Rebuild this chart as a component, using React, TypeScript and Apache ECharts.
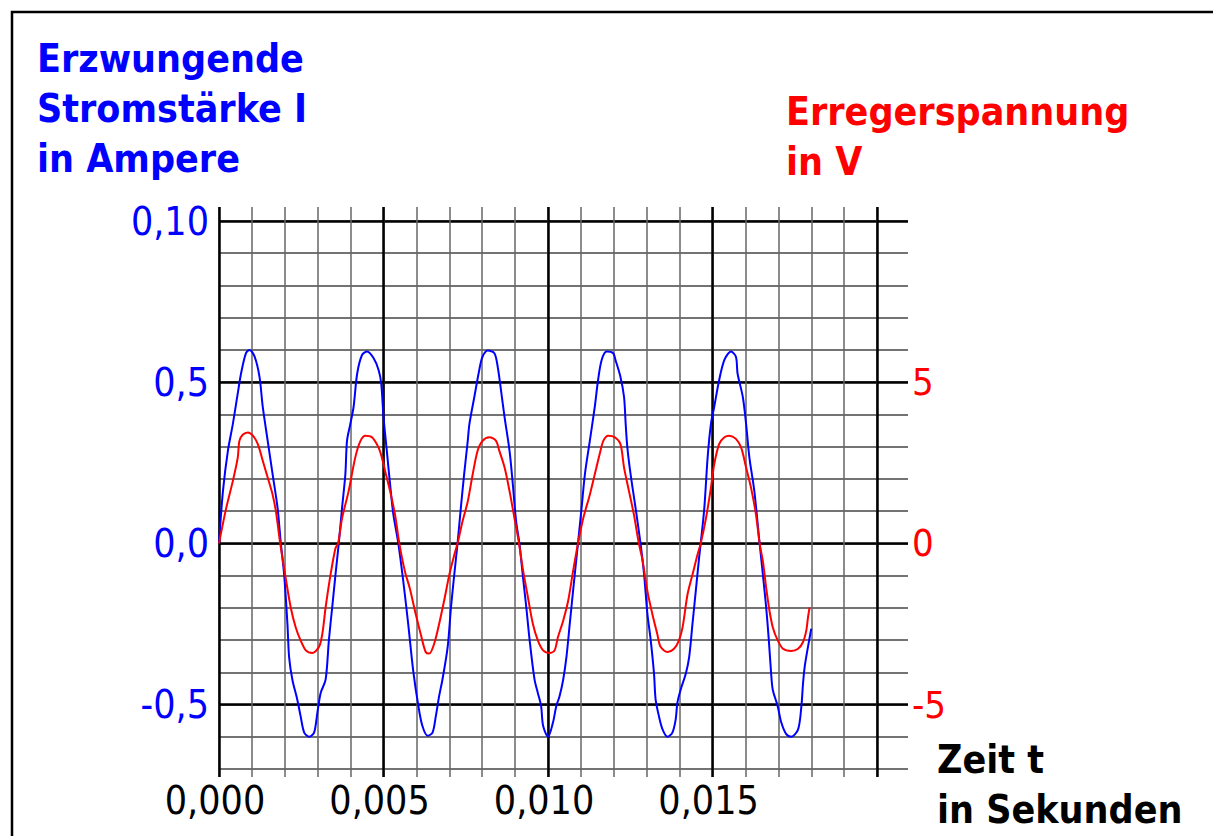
import React, { useEffect, useRef } from "react";
import * as echarts from "echarts";

// Forced current I (A), time in ms
const currentTimesMs = [
  0, 0.12, 0.27, 0.42, 0.57, 0.67, 0.82, 0.93, 1.08, 1.23, 1.33, 1.48, 1.63, 1.78, 1.88, 1.98, 2.08, 2.13, 2.23, 2.38,
  2.48, 2.59, 2.74, 2.89, 2.99, 3.09, 3.24, 3.34, 3.44, 3.54, 3.64, 3.74, 3.84, 3.89, 3.99, 4.09, 4.2, 4.35, 4.5, 4.7,
  4.85, 4.93, 5.0, 5.1, 5.2, 5.3, 5.45, 5.6, 5.75, 5.9, 6.06, 6.18, 6.34, 6.49, 6.59, 6.69, 6.79, 6.95, 7.05, 7.15,
  7.25, 7.35, 7.45, 7.56, 7.61, 7.76, 7.91, 8.01, 8.17, 8.37, 8.47, 8.57, 8.68, 8.83, 8.93, 9.03, 9.13, 9.23, 9.34, 9.44,
  9.59, 9.69, 9.79, 9.85, 10.0, 10.15, 10.25, 10.35, 10.46, 10.56, 10.66, 10.76, 10.91, 11.02, 11.12, 11.27, 11.42, 11.52, 11.63, 11.78,
  11.98, 12.05, 12.2, 12.31, 12.36, 12.41, 12.51, 12.66, 12.81, 12.92, 13.02, 13.12, 13.22, 13.27, 13.37, 13.48, 13.63, 13.78, 13.88, 13.93,
  14.03, 14.19, 14.29, 14.39, 14.49, 14.59, 14.64, 14.75, 14.85, 14.95, 15.05, 15.2, 15.36, 15.56, 15.71, 15.76, 15.92, 16.02, 16.12, 16.27,
  16.43, 16.53, 16.63, 16.71, 16.78, 16.83, 16.98, 17.09, 17.24, 17.39, 17.6, 17.7, 17.75, 17.8, 17.9, 18.0,
];
const currentValues = [
  0, 0.162, 0.287, 0.37, 0.465, 0.527, 0.59, 0.6, 0.58, 0.517, 0.423, 0.318, 0.214, 0.11, 0, -0.097, -0.25, -0.352, -0.423, -0.485,
  -0.536, -0.587, -0.6, -0.587, -0.525, -0.464, -0.423, -0.3, -0.199, -0.097, 0, 0.11, 0.214, 0.318, 0.37, 0.423, 0.527, 0.585, 0.595, 0.574,
  0.538, 0.496, 0.392, 0.287, 0.183, 0.089, 0, -0.117, -0.25, -0.393, -0.505, -0.566, -0.597, -0.587, -0.536, -0.474, -0.423, -0.321, -0.199, -0.097,
  0, 0.11, 0.214, 0.318, 0.37, 0.454, 0.538, 0.579, 0.598, 0.59, 0.548, 0.475, 0.391, 0.287, 0.183, 0.068, 0, -0.097, -0.199, -0.3,
  -0.423, -0.464, -0.505, -0.566, -0.6, -0.556, -0.505, -0.474, -0.423, -0.352, -0.25, -0.148, 0, 0.11, 0.214, 0.318, 0.423, 0.506, 0.569, 0.595,
  0.59, 0.569, 0.517, 0.454, 0.37, 0.298, 0.214, 0.11, 0, -0.097, -0.219, -0.3, -0.403, -0.485, -0.536, -0.577, -0.6, -0.587, -0.546, -0.495,
  -0.454, -0.403, -0.352, -0.25, -0.148, -0.046, 0, 0.11, 0.266, 0.37, 0.423, 0.506, 0.569, 0.595, 0.579, 0.527, 0.454, 0.37, 0.266, 0.162,
  0, -0.097, -0.199, -0.3, -0.403, -0.454, -0.505, -0.556, -0.592, -0.6, -0.577, -0.505, -0.434, -0.383, -0.321, -0.265,
];

// Exciting voltage U (V), time in ms
const voltageTimesMs = [
  0, 0.22, 0.42, 0.57, 0.62, 0.72, 0.88, 1.03, 1.18, 1.33, 1.48, 1.63, 1.73, 1.86, 2.01, 2.18, 2.33, 2.48, 2.64, 2.84,
  3.04, 3.14, 3.24, 3.39, 3.54, 3.62, 3.74, 3.94, 4.14, 4.3, 4.45, 4.65, 4.85, 4.95, 5.05, 5.2, 5.35, 5.48, 5.65, 5.8,
  5.98, 6.13, 6.28, 6.39, 6.54, 6.69, 6.84, 7.0, 7.15, 7.25, 7.4, 7.56, 7.71, 7.86, 8.01, 8.22, 8.42, 8.52, 8.68, 8.83,
  8.98, 9.11, 9.23, 9.39, 9.54, 9.69, 9.85, 10.05, 10.2, 10.3, 10.46, 10.61, 10.76, 10.91, 11.07, 11.27, 11.42, 11.57, 11.68, 11.83,
  12.03, 12.2, 12.31, 12.46, 12.61, 12.76, 12.86, 13.02, 13.17, 13.32, 13.42, 13.63, 13.83, 13.98, 14.09, 14.24, 14.39, 14.54, 14.64, 14.8,
  14.95, 15.05, 15.2, 15.36, 15.51, 15.71, 15.87, 16.02, 16.17, 16.32, 16.43, 16.53, 16.63, 16.73, 16.83, 16.98, 17.14, 17.39, 17.6, 17.75,
  17.85, 17.9, 17.95,
];
const voltageValues = [
  0, 1.1, 1.93, 2.66, 3.18, 3.37, 3.44, 3.34, 3.08, 2.56, 2.04, 1.51, 0.99, 0, -0.97, -1.99, -2.6, -3.01, -3.32, -3.4,
  -3.21, -2.81, -1.99, -0.97, -0.15, 0, 0.78, 1.62, 2.66, 3.18, 3.34, 3.29, 2.97, 2.66, 2.24, 1.62, 0.89, 0, -0.87, -1.4,
  -2.2, -2.81, -3.37, -3.42, -3.11, -2.5, -1.79, -0.97, -0.36, 0, 0.68, 1.3, 2.14, 2.87, 3.18, 3.29, 3.18, 2.87, 2.35, 1.62,
  0.78, 0.05, -0.77, -1.68, -2.5, -3.01, -3.32, -3.4, -3.32, -2.91, -2.4, -1.79, -0.87, 0, 0.78, 1.51, 2.14, 2.77, 3.18, 3.34,
  3.29, 3.08, 2.35, 1.62, 0.89, 0, -0.46, -1.48, -2.19, -2.81, -3.21, -3.37, -3.27, -3.01, -2.6, -1.58, -0.97, -0.36, 0, 0.78,
  1.72, 2.45, 3.08, 3.29, 3.34, 3.24, 2.97, 2.35, 1.72, 0.89, 0, -0.56, -1.38, -2.09, -2.6, -3.01, -3.27, -3.34, -3.27, -3.06,
  -2.7, -2.3, -1.99,
];

// Axis ticks and labels
const xTickValues = [0, 0.005, 0.01, 0.015];
const xTickLabels = ["0,000", "0,005", "0,010", "0,015"];
const leftTickValues = [-0.5, 0, 0.5, 1.0];
const leftTickLabels = ["-0,5", "0,0", "0,5", "0,10"];
const rightTickValues = [-5, 0, 5];
const rightTickLabels = ["-5", "0", "5"];

const leftTitle = ["Erzwungende", "Stromstärke I", "in Ampere"];
const rightTitle = ["Erregerspannung", "in V"];
const xTitle = ["Zeit t", "in Sekunden"];

const FONT = "'DejaVu Sans Condensed', 'DejaVu Sans', sans-serif";

const pick = (vals: number[], labels: string[]) => (v: number) => {
  const i = vals.findIndex((t) => Math.abs(t - v) < 1e-9);
  return i >= 0 ? labels[i] : "";
};

export default function App() {
  const ref = useRef<HTMLDivElement>(null);
  useEffect(() => {
    if (!ref.current) return;
    const chart = echarts.init(ref.current, null, { renderer: "svg" });
    const currentData = currentTimesMs.map((t, i) => [t / 1000, currentValues[i]]);
    const voltageData = voltageTimesMs.map((t, i) => [t / 1000, voltageValues[i]]);
    const X_MAX = 0.02094;
    const gridLeft = 219;
    const gridWidth = 689;

    const textLines = (lines: string[], x: number, y0: number, step: number, color: string) =>
      lines.map((s, i) => ({
        type: "text",
        x,
        y: y0 + i * step,
        style: {
          text: s,
          fill: color,
          font: `bold 39px ${FONT}`,
          align: "left",
          verticalAlign: "middle",
        },
      }));

    chart.setOption({
      animation: false,
      backgroundColor: "#ffffff",
      grid: [
        { left: gridLeft, top: 221, width: gridWidth, height: 548 },
        { left: gridLeft, top: 207, width: gridWidth, height: 570 },
      ],
      xAxis: [
        {
          gridIndex: 0,
          type: "value",
          min: 0,
          max: X_MAX,
          minInterval: 0.005,
          maxInterval: 0.005,
          axisLine: { show: false },
          axisTick: { show: false },
          splitLine: { show: false },
          axisLabel: {
            color: "#000",
            fontSize: 39,
            fontFamily: FONT,
            margin: 12,
            padding: [0, 8, 0, 0],
            formatter: pick(xTickValues, xTickLabels),
          },
        },
        {
          gridIndex: 1,
          type: "value",
          min: 0,
          max: X_MAX,
          minInterval: 0.001,
          maxInterval: 0.001,
          axisLine: { show: false },
          axisTick: { show: false },
          axisLabel: { show: false },
          splitLine: { show: true, showMaxLine: false, lineStyle: { color: "#666", width: 1.5 } },
        },
        {
          gridIndex: 1,
          type: "value",
          min: 0,
          max: X_MAX,
          minInterval: 0.005,
          maxInterval: 0.005,
          axisLine: { show: false },
          axisTick: { show: false },
          axisLabel: { show: false },
          splitLine: { show: true, showMaxLine: false, lineStyle: { color: "#000", width: 2.5 } },
        },
      ],
      yAxis: [
        {
          gridIndex: 0,
          type: "value",
          position: "left",
          min: -0.7,
          max: 1.0,
          minInterval: 0.1,
          maxInterval: 0.1,
          axisLine: { show: false },
          axisTick: { show: false },
          axisLabel: { show: false },
          splitLine: { show: true, lineStyle: { color: "#444", width: 1.5 } },
        },
        {
          gridIndex: 0,
          type: "value",
          position: "left",
          min: -0.7,
          max: 1.0,
          minInterval: 0.5,
          maxInterval: 0.5,
          axisLine: { show: false },
          axisTick: { show: false },
          axisLabel: {
            color: "#0000ff",
            fontSize: 39,
            fontFamily: FONT,
            margin: 10,
            formatter: pick(leftTickValues, leftTickLabels),
          },
          splitLine: { show: true, showMinLine: false, lineStyle: { color: "#000", width: 2.5 } },
        },
        {
          gridIndex: 0,
          type: "value",
          position: "right",
          min: -7,
          max: 10,
          minInterval: 5,
          maxInterval: 5,
          axisLine: { show: false },
          axisTick: { show: false },
          splitLine: { show: false },
          axisLabel: {
            color: "#ff0000",
            fontSize: 38,
            fontFamily: FONT,
            margin: 4,
            formatter: pick(rightTickValues, rightTickLabels),
          },
        },
        { gridIndex: 1, type: "value", show: false, min: 0, max: 1, splitLine: { show: false } },
      ],
      series: [
        {
          name: "Stromstärke I",
          type: "line",
          xAxisIndex: 0,
          yAxisIndex: 1,
          data: currentData,
          showSymbol: false,
          smooth: 0.3,
          lineStyle: { color: "#0000ff", width: 2 },
          z: 5,
        },
        {
          name: "Erregerspannung",
          type: "line",
          xAxisIndex: 0,
          yAxisIndex: 2,
          data: voltageData,
          showSymbol: false,
          smooth: 0.3,
          lineStyle: { color: "#ff0000", width: 2 },
          z: 5,
        },
      ],
      graphic: [
        {
          type: "polyline",
          shape: { points: [[12, 836], [12, 12], [1213, 12]] },
          style: { stroke: "#000", lineWidth: 2.5, fill: "none" },
        },
        ...textLines(leftTitle, 37, 58, 50, "#0000ff"),
        ...textLines(rightTitle, 786, 111, 50, "#ff0000"),
        ...textLines(xTitle, 937, 759, 50, "#000000"),
      ],
    });
    return () => chart.dispose();
  }, []);
  return <div ref={ref} style={{ position: "absolute", left: 0, top: 0, width: 1213, height: 836 }} />;
}
